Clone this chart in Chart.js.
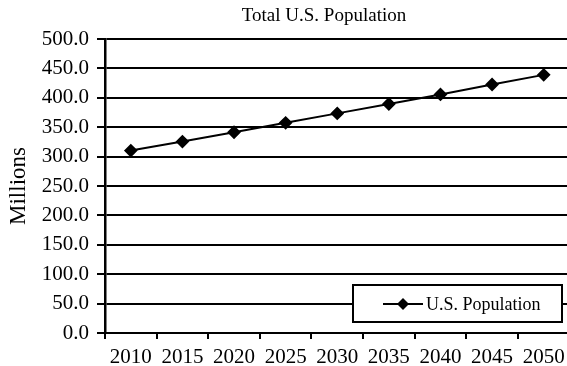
<!DOCTYPE html>
<html>
<head>
<meta charset="utf-8">
<script src="https://cdn.jsdelivr.net/npm/chart.js@4/dist/chart.umd.min.js"></script>
<style>
 html,body{margin:0;padding:0;background:#fff;overflow:hidden;}
 canvas{display:block;}
</style>
</head>
<body>
<canvas id="chart" width="577" height="366"></canvas>
<script>
/* data */
var years=['2010','2015','2020','2025','2030','2035','2040','2045','2050'];
var population=[310.2,325.5,341.4,357.5,373.5,389.5,405.7,422.6,439.0];
var series_label='U.S. Population';
var chart_title='Total U.S. Population';
var y_title='Millions';

var font_family='"Liberation Serif","Times New Roman",serif';

/* title and legend drawn inside the chart area */
var overlay={
 id:'overlay',
 afterDraw:function(chart){
  var ctx=chart.ctx;
  ctx.save();
  // title
  ctx.fillStyle='#000';
  ctx.font='19px '+font_family;
  ctx.textAlign='center';
  ctx.textBaseline='middle';
  ctx.fillText(chart_title,324,16);
  // legend box
  ctx.fillStyle='#fff';
  ctx.fillRect(353,285,209,37);
  ctx.strokeStyle='#000';
  ctx.lineWidth=2;
  ctx.strokeRect(353,285,209,37);
  // legend sample
  ctx.beginPath();
  ctx.moveTo(383,304);
  ctx.lineTo(423,304);
  ctx.stroke();
  ctx.beginPath();
  ctx.moveTo(403,298);ctx.lineTo(409,304);ctx.lineTo(403,310);ctx.lineTo(397,304);
  ctx.closePath();
  ctx.fillStyle='#000';
  ctx.fill();
  ctx.font='18px '+font_family;
  ctx.textAlign='left';
  ctx.fillText(series_label,426,305);
  ctx.restore();
 }
};

var ctx=document.getElementById('chart').getContext('2d');
var myChart=new Chart(ctx,{
 type:'line',
 data:{
  labels:years,
  datasets:[{
   label:series_label,
   data:population,
   borderColor:'#000',
   backgroundColor:'#000',
   borderWidth:2,
   pointStyle:'rectRot',
   pointRadius:5.5,
   pointBackgroundColor:'#000',
   pointBorderColor:'#000',
   fill:false,
   tension:0
  }]
 },
 options:{
  responsive:false,
  animation:false,
  layout:{padding:{top:39,right:0,bottom:0,left:0}},
  plugins:{legend:{display:false},title:{display:false},tooltip:{enabled:false}},
  scales:{
   x:{
    type:'category',
    offset:true,
    grid:{offset:true,drawOnChartArea:false,drawTicks:true,tickLength:6,color:'#000',lineWidth:2},
    border:{display:true,color:'#000',width:2},
    ticks:{color:'#000',font:{family:font_family,size:21},padding:6,maxRotation:0,autoSkip:false},
    afterFit:function(scale){scale.height=33;}
   },
   y:{
    min:0,
    max:500,
    grid:{color:'#000',lineWidth:2,tickLength:8},
    border:{display:true,color:'#000',width:2.5},
    ticks:{stepSize:50,color:'#000',font:{family:font_family,size:21},padding:8,
     callback:function(v){return v.toFixed(1);}},
    title:{display:true,text:y_title,color:'#000',font:{family:font_family,size:23},padding:{top:5,bottom:0}},
    afterFit:function(scale){scale.width=105;}
   }
  }
 },
 plugins:[overlay]
});
</script>
</body>
</html>
